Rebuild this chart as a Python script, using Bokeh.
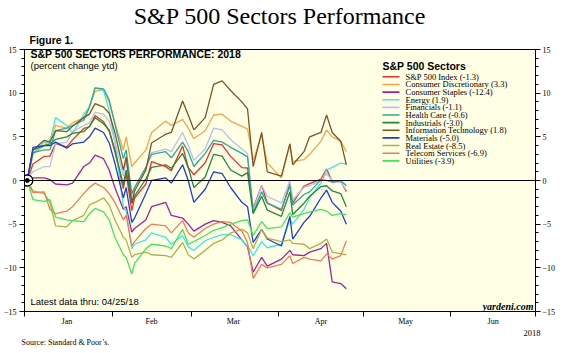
import pandas as pd
from bokeh.plotting import figure
from bokeh.models import Range1d, LinearAxis, FixedTicker, Span, Label, BoxAnnotation, Title
from bokeh.embed import file_html
from bokeh.resources import INLINE

# ---------------- data ----------------
dates = ["2018-01-02", "2018-01-04", "2018-01-08", "2018-01-10", "2018-01-12", "2018-01-16",
         "2018-01-18", "2018-01-22", "2018-01-24", "2018-01-26", "2018-01-29", "2018-01-31",
         "2018-02-02", "2018-02-05", "2018-02-06", "2018-02-08", "2018-02-09", "2018-02-13",
         "2018-02-15", "2018-02-20", "2018-02-22", "2018-02-26", "2018-02-28",
         "2018-03-02", "2018-03-06", "2018-03-09", "2018-03-12", "2018-03-15", "2018-03-19",
         "2018-03-21", "2018-03-23", "2018-03-26", "2018-03-28",
         "2018-04-02", "2018-04-05", "2018-04-06", "2018-04-10", "2018-04-12", "2018-04-16",
         "2018-04-18", "2018-04-20", "2018-04-23", "2018-04-25"]

sp500 = [0, 1.88, 2.77, 2.79, 4.21, 3.85, 4.65, 5.96, 6.13, 7.45, 6.73, 5.62,
         3.31, -0.92, 0.81, -3.46, -2.02, -0.40, 2.15, 1.59, 1.13, 3.96, 1.50,
         0.66, 2.04, 4.22, 4.09, 2.76, 1.47, 1.43, -3.19, -0.56, -2.57,
         -3.43, -0.40, -2.59, -0.63, -0.36, 0.16, 1.31, -0.13, -0.12, -1.28]
consumer_disc = [0, 3.0, 4.0, 4.6, 6.3, 6.0, 6.6, 7.2, 8.5, 10.2, 10.4, 9.0,
                 6.6, 3.5, 5.0, 1.6, 2.0, 3.5, 5.5, 6.8, 6.3, 7.0, 6.0,
                 4.8, 5.7, 7.5, 7.6, 6.8, 6.2, 5.9, 2.3, 5.2, 2.0,
                 0.3, 4.2, 2.2, 2.4, 3.0, 4.5, 5.8, 5.0, 4.5, 3.3]
consumer_staples = [0, 0.3, 0.3, 0.1, -0.4, -0.5, -0.3, 1.6, 2.0, 2.9, 2.5, 1.2,
                    -0.8, -3.3, -3.0, -5.9, -5.5, -4.5, -3.0, -2.5, -4.0, -4.3, -5.0,
                    -5.8, -5.0, -4.6, -4.8, -5.2, -6.8, -7.6, -10.5, -8.8, -9.8,
                    -9.0, -8.0, -8.5, -8.6, -8.2, -7.8, -7.2, -11.6, -11.8, -12.4]
energy = [0, 3.1, 4.4, 4.4, 7.2, 6.3, 5.4, 7.6, 8.4, 10.6, 10.3, 8.0,
          4.5, -3.0, -3.5, -7.8, -7.3, -6.8, -6.0, -6.5, -7.3, -6.3, -7.6,
          -8.0, -6.9, -6.5, -6.2, -6.2, -6.8, -7.5, -8.6, -7.0, -7.7,
          -7.3, -4.5, -5.0, -3.3, -2.0, -0.3, 1.2, 1.5, 2.0, 1.9]
financials = [0, 1.0, 1.6, 1.6, 4.2, 4.4, 5.6, 6.3, 6.6, 7.8, 7.6, 6.8,
              4.5, 0.5, 2.3, -1.8, -0.8, 1.5, 3.2, 3.6, 3.3, 5.5, 4.0,
              2.3, 3.6, 6.0, 5.8, 4.7, 3.6, 3.1, -3.4, -0.6, -1.8,
              -2.6, 0.0, -2.2, -0.8, -0.6, 0.0, 0.8, 0.0, -0.2, -1.1]
health_care = [0, 3.2, 3.5, 3.5, 5.7, 6.0, 6.3, 6.9, 8.4, 10.6, 10.5, 9.2,
               6.5, 2.5, 3.5, -1.5, -0.8, 1.5, 3.0, 3.3, 2.6, 4.4, 3.3,
               1.6, 3.1, 4.6, 4.4, 3.8, 3.1, 2.7, -3.7, -1.3, -2.6,
               -3.3, -0.6, -2.8, -1.6, -1.3, 0.1, 0.0, -0.2, 0.0, -0.6]
industrials = [0, 3.5, 4.0, 4.2, 4.7, 5.0, 5.4, 5.6, 6.2, 7.2, 6.5, 5.8,
               3.5, -0.5, 1.2, -2.6, -1.8, 0.2, 1.5, 1.8, 1.4, 3.1, 1.5,
               -0.8, 0.4, 3.0, 2.8, 1.2, 0.5, 0.9, -3.8, -1.8, -3.4,
               -4.1, -1.3, -3.9, -2.6, -1.8, -0.7, -0.6, -1.2, -1.5, -3.0]
info_tech = [0, 3.5, 4.6, 4.4, 5.7, 5.6, 6.2, 7.2, 7.6, 8.8, 8.4, 7.7,
             5.5, 1.2, 2.7, -2.6, -1.2, 1.2, 4.3, 5.3, 5.5, 9.1, 7.5,
             5.8, 7.2, 11.0, 11.4, 10.3, 9.0, 8.2, 1.6, 5.5, 1.0,
             0.5, 4.2, 1.8, 3.3, 5.0, 5.5, 7.5, 5.5, 4.5, 1.8]
materials = [0, 3.8, 4.0, 4.0, 4.4, 3.7, 4.2, 4.4, 5.0, 6.0, 5.5, 4.3,
             2.0, -2.0, -0.8, -4.8, -4.3, -1.5, 0.0, 0.3, -0.3, 1.8, 0.0,
             -2.5, -1.0, 1.0, 0.8, -0.8, -2.5, -3.0, -7.1, -5.6, -6.7,
             -7.5, -4.1, -6.7, -4.8, -4.1, -2.0, -1.1, -2.5, -3.5, -5.0]
real_estate = [0, -1.2, -1.5, -2.5, -5.2, -5.3, -4.6, -4.0, -2.8, -2.5, -2.0, -2.8,
               -4.5, -6.5, -6.8, -8.8, -8.5, -8.2, -8.5, -8.6, -8.8, -7.1, -8.5,
               -9.0, -8.0, -7.2, -6.8, -6.0, -5.6, -6.0, -7.8, -5.6, -6.6,
               -7.0, -6.8, -7.2, -7.3, -7.8, -7.2, -6.7, -8.2, -8.4, -8.5]
telecom = [0, -1.4, -1.3, -3.3, -3.8, -3.5, -3.0, -1.5, -0.8, -0.3, -0.8, -1.5,
           -2.5, -4.5, -4.0, -7.5, -7.0, -5.5, -5.0, -5.2, -6.0, -4.6, -6.0,
           -6.5, -5.5, -5.0, -4.7, -4.8, -5.8, -7.1, -11.2, -9.6, -10.0,
           -9.6, -8.6, -9.5, -8.8, -9.0, -9.2, -8.4, -9.0, -8.6, -6.9]
utilities = [0, -2.2, -2.4, -2.2, -4.2, -4.5, -4.6, -4.7, -3.8, -3.2, -3.6, -4.5,
             -6.5, -8.5, -8.8, -10.7, -9.5, -7.8, -7.3, -7.5, -7.8, -5.6, -7.3,
             -7.0, -6.3, -5.7, -5.4, -5.0, -4.6, -4.5, -6.3, -4.7, -5.5,
             -5.3, -3.7, -4.2, -3.8, -3.6, -3.3, -3.5, -4.0, -3.8, -3.9]

series_labels = ["S&P 500 Index (-1.3)", "Consumer Discretionary (3.3)", "Consumer Staples (-12.4)",
                 "Energy (1.9)", "Financials (-1.1)", "Health Care (-0.6)", "Industrials (-3.0)",
                 "Information Technology (1.8)", "Materials (-5.0)", "Real Estate (-8.5)",
                 "Telecom Services (-6.9)", "Utilities (-3.9)"]
series_values = [sp500, consumer_disc, consumer_staples, energy, financials, health_care,
                 industrials, info_tech, materials, real_estate, telecom, utilities]
series_colors = ["#E8312F", "#F5A54A", "#A2229B", "#3EE8E8", "#B8BEF0", "#2AA89A",
                 "#24873A", "#7B5426", "#1F3BD6", "#B5AE46", "#F07B55", "#45E35A"]

month_labels = ["Jan", "Feb", "Mar", "Apr", "May", "Jun"]
y_major = [-15, -10, -5, 0, 5, 10, 15]

# ---------------- layout constants ----------------
W, H = 572, 353
FL, FR, FT, FB = 23, 535, 48, 313   # frame edges in page pixels
SERIF = "Liberation Serif"
SANS = "Liberation Sans"

origin = pd.Timestamp("2018-01-01")
x = (pd.to_datetime(dates) - origin).days.to_numpy()
starts = (pd.date_range("2018-01-01", "2018-07-01", freq="MS") - origin).days.to_numpy()
mids = [int((starts[i] + starts[i + 1]) // 2) for i in range(len(starts) - 1)]

p = figure(width=W, height=H, output_backend="svg", toolbar_location=None, title=None,
           x_range=Range1d(0, int(starts[-1])), y_range=Range1d(-15, 15),
           x_axis_type=None, y_axis_type=None,
           min_border_left=FL, min_border_right=W - FR, min_border_top=FT, min_border_bottom=H - FB)
p.background_fill_color = "#FFFFE6"
p.border_fill_color = "white"
p.outline_line_color = "black"
p.outline_line_width = 1

# titles above (first added sits closest to the frame)
p.add_layout(Title(text="Figure 1.", align="left", offset=5, standoff=7,
                   text_font=SANS, text_font_size="10.5px", text_font_style="bold",
                   text_color="black"), "above")
p.add_layout(Title(text="S&P 500 Sectors Performance", align="center", offset=1, standoff=0,
                   text_font=SERIF, text_font_size="24px", text_font_style="normal",
                   text_color="black"), "above")

xaxis = LinearAxis(ticker=FixedTicker(ticks=mids, minor_ticks=list(starts)),
                   major_label_overrides={m: lab for m, lab in zip(mids, month_labels)},
                   major_tick_out=0, major_tick_in=0, minor_tick_out=5, minor_tick_in=0,
                   major_label_standoff=0, axis_line_color="black",
                   major_label_text_font=SERIF, major_label_text_font_size="8px",
                   major_label_text_color="black")
p.add_layout(xaxis, "below")
p.add_layout(Title(text="2018", align="right", offset=-5, standoff=-14,
                   text_font=SERIF, text_font_size="8.5px", text_font_style="normal",
                   text_color="black"), "below")
p.add_layout(Title(text="Source: Standard & Poor\u2019s.", align="left", offset=-3, standoff=14,
                   text_font=SERIF, text_font_size="8px", text_font_style="normal",
                   text_color="black"), "below")

for side, standoff in (("left", 3), ("right", 2)):
    ax = LinearAxis(ticker=FixedTicker(ticks=y_major, minor_ticks=list(range(-15, 16))),
                    major_tick_out=5, major_tick_in=0, minor_tick_out=3, minor_tick_in=0,
                    major_label_standoff=standoff, axis_line_color="black",
                    major_label_text_font=SERIF, major_label_text_font_size="8px",
                    major_label_text_color="black")
    p.add_layout(ax, side)

p.add_layout(Span(location=0, dimension="width", line_color="black", line_width=1.2))

for vals, color in zip(series_values, series_colors):
    p.line(x, vals, line_color=color, line_width=1.3)

p.scatter([x[0]], [sp500[0]], size=11, marker="circle", fill_color="white",
          line_color="black", line_width=1.3)
p.scatter([x[0]], [sp500[0]], size=4, marker="circle", fill_color="black", line_color="black")


def sx(px):
    return px - FL


def sy(py):
    return FB - py


def add_text(text, px, py, font, size, style="normal", align="left", color="black"):
    p.add_layout(Label(x=sx(px), y=sy(py), x_units="screen", y_units="screen", text=text,
                       text_font=font, text_font_size=size, text_font_style=style,
                       text_align=align, text_baseline="middle", text_color=color))


add_text("S&P 500 SECTORS PERFORMANCE: 2018", 29, 55.5, SANS, "10.5px", style="bold")
add_text("(percent change ytd)", 29, 66.5, SANS, "9.5px")
add_text("Latest data thru: 04/25/18", 29, 303, SANS, "9.5px")
add_text("yardeni.com", 532, 307.5, SERIF, "10px", style="bold italic", align="right")

# legend drawn by hand
add_text("S&P 500 Sectors", 381, 67.3, SANS, "10.5px", style="bold")
row0, row_step = 78.3, 7.64
for i, (lab, color) in enumerate(zip(series_labels, series_colors)):
    cy = row0 + i * row_step
    p.add_layout(BoxAnnotation(left=sx(381), right=sx(398), top=sy(cy - 0.8), bottom=sy(cy + 0.8),
                               left_units="screen", right_units="screen",
                               top_units="screen", bottom_units="screen",
                               fill_color=color, fill_alpha=1.0, line_alpha=0))
    add_text(lab, 404, cy, SERIF, "8.5px")

open("out.html", "w").write(file_html(p, INLINE))
